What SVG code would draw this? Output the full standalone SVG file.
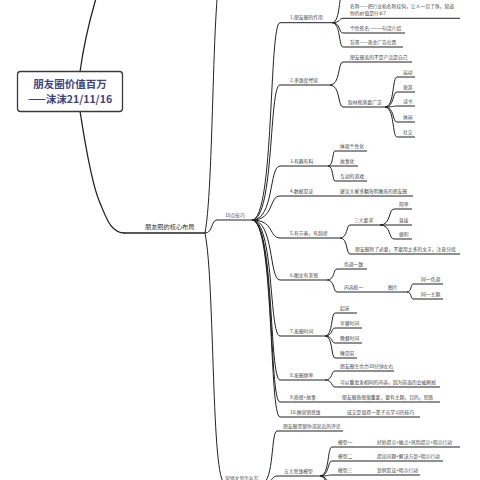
<svg xmlns="http://www.w3.org/2000/svg" width="480" height="480" viewBox="0 0 480 480">
<style>
.ln{fill:none;stroke:#222;stroke-width:1}
.lr{fill:none;stroke:#222;stroke-width:1.3}
.t{font-family:"Noto Sans CJK SC","Noto Sans",sans-serif;font-size:4.8px;fill:#444}
.t2{font-family:"Noto Sans CJK SC","Noto Sans",sans-serif;font-size:6.2px;fill:#333}
.rt{font-family:"Noto Sans CJK SC","Noto Sans",sans-serif;font-size:10.5px;font-weight:bold;fill:#3d4383;text-anchor:middle}
</style>
<rect width="480" height="480" fill="#fff"/>
<g id="connectors">
  <path class="lr" d="M80,72 Q85,35 97,-5"/>
  <path class="lr" d="M80,111 C86,150 92,185 100,203 C106,216.5 110,233 125,233"/>
  <path class="ln" d="M205,233 C215,178 211,-40 225,-40"/>
  <path class="ln" d="M205,233 C213,233 211,220 217,220"/>
  <path class="ln" d="M205,233 C215,283 211,483 225,483"/>
  <path class="ln" d="M252,220 C274.4,220 268.8,22.7 280,22.7"/>
  <path class="ln" d="M252,220 C274.4,220 268.8,85 280,85"/>
  <path class="ln" d="M252,220 C274.4,220 268.8,166 280,166"/>
  <path class="ln" d="M252,220 C274.4,220 268.8,196 280,196"/>
  <path class="ln" d="M252,220 C274.4,220 268.8,238 280,238"/>
  <path class="ln" d="M252,220 C274.4,220 268.8,280 280,280"/>
  <path class="ln" d="M252,220 C274.4,220 268.8,336 280,336"/>
  <path class="ln" d="M252,220 C274.4,220 268.8,380 280,380"/>
  <path class="ln" d="M252,220 C274.4,220 268.8,402 280,402"/>
  <path class="ln" d="M252,220 C274.4,220 268.8,417 280,417"/>
  <path class="ln" d="M332,22.7 C340.8,22.7 338.6,-8 343,-8"/>
  <path class="ln" d="M332,22.7 C340.8,22.7 338.6,18.3 343,18.3"/>
  <path class="ln" d="M332,22.7 C340.8,22.7 338.6,33 343,33"/>
  <path class="ln" d="M332,22.7 C340.8,22.7 338.6,47 343,47"/>
  <path class="ln" d="M330,85 C340.4,85 337.8,62 343,62"/>
  <path class="ln" d="M330,85 C340.4,85 337.8,107 343,107"/>
  <path class="ln" d="M385,107 C394.6,107 392.2,77 397,77"/>
  <path class="ln" d="M385,107 C394.6,107 392.2,92 397,92"/>
  <path class="ln" d="M385,107 C394.6,107 392.2,106 397,106"/>
  <path class="ln" d="M385,107 C394.6,107 392.2,122 397,122"/>
  <path class="ln" d="M385,107 C394.6,107 392.2,137 397,137"/>
  <path class="ln" d="M328,166 C333.6,166 332.2,151 335,151"/>
  <path class="ln" d="M328,166 H335"/>
  <path class="ln" d="M328,166 C333.6,166 332.2,181 335,181"/>
  <path class="ln" d="M340,238 C348,238 346,225 350,225"/>
  <path class="ln" d="M340,238 C348,238 346,254 350,254"/>
  <path class="ln" d="M380,225 C391.2,225 388.4,209 394,209"/>
  <path class="ln" d="M380,225 H394"/>
  <path class="ln" d="M380,225 C391.2,225 388.4,239 394,239"/>
  <path class="ln" d="M327,280 C335,280 333,269 337,269"/>
  <path class="ln" d="M327,280 C335,280 333,292 337,292"/>
  <path class="ln" d="M407,292 C411.8,292 410.6,284 413,284"/>
  <path class="ln" d="M407,292 C411.8,292 410.6,299 413,299"/>
  <path class="ln" d="M325,336 C333,336 331,313 335,313"/>
  <path class="ln" d="M325,336 C333,336 331,328 335,328"/>
  <path class="ln" d="M325,336 C333,336 331,343 335,343"/>
  <path class="ln" d="M325,336 C333,336 331,358 335,358"/>
  <path class="ln" d="M325,380 C333,380 331,371 335,371"/>
  <path class="ln" d="M325,380 C333,380 331,387 335,387"/>
  <path class="ln" d="M262,483 C274,483 271,431 277,431"/>
  <path class="ln" d="M262,483 C274,483 271,476 277,476"/>
  <path class="ln" d="M320,476 C329.6,476 327.2,447 332,447"/>
  <path class="ln" d="M320,476 C329.6,476 327.2,461 332,461"/>
  <path class="ln" d="M320,476 C329.6,476 327.2,475 332,475"/>
  <path class="ln" d="M320,476 C329.6,476 327.2,489 332,489"/>
  <path class="ln" d="M320,476 C329.6,476 327.2,503 332,503"/>
</g>
<g id="root">
  <rect x="17.5" y="71.5" width="105" height="40" rx="3" fill="#fff" stroke="#3a3a3a" stroke-width="1.3"/>
  <text class="rt" x="70" y="88">朋友圈价值百万</text>
  <text class="rt" x="70" y="103">——沫沫21/11/16</text>
</g>
<g id="core">
  <path class="lr" d="M124,233 H205"/>
  <text class="t2" x="145" y="228.5">朋友圈的核心布局</text>
</g>
<g id="tips10">
  <path class="ln" d="M217,220 H252"/>
  <text class="t" x="225" y="216.5">10点技巧</text>
</g>
<g id="copywriting">
  <path class="ln" d="M225,483 H262"/>
  <text class="t" x="225" y="479.5">营销文案怎么写</text>
</g>
<g id="n1">
  <path class="ln" d="M280,22.7 H332"/>
  <text class="t" x="290" y="19.2">1.朋友圈的作用</text>
</g>
<g id="n1a">
  <path class="ln" d="M343,18.3 H460"/>
  <text class="t" x="350" y="8.3">名称——把行业和名称挂钩，让人一目了然，知道</text>
  <text class="t" x="350" y="14.8">你的价值是什么?</text>
</g>
<g id="n1b">
  <path class="ln" d="M343,33 H405"/>
  <text class="t" x="350" y="29.5">个性签名——一句话介绍</text>
</g>
<g id="n1c">
  <path class="ln" d="M343,47 H403"/>
  <text class="t" x="350" y="43.5">背景——黄金广告位置</text>
</g>
<g id="n2">
  <path class="ln" d="M280,85 H330"/>
  <text class="t" x="290" y="81.5">2.多维度经营</text>
</g>
<g id="n2a">
  <path class="ln" d="M343,62 H412"/>
  <text class="t" x="350" y="58.5">朋友圈卖的不是产品是自己</text>
</g>
<g id="n2b">
  <path class="ln" d="M343,107 H385"/>
  <text class="t" x="348" y="103.5">取材视角要广泛</text>
</g>
<g id="n2b1"><path class="ln" d="M397,77 H415"/><text class="t" x="403" y="73.5">运动</text></g>
<g id="n2b2"><path class="ln" d="M397,92 H415"/><text class="t" x="403" y="88.5">旅游</text></g>
<g id="n2b3"><path class="ln" d="M397,106 H415"/><text class="t" x="403" y="102.5">读书</text></g>
<g id="n2b4"><path class="ln" d="M397,122 H415"/><text class="t" x="403" y="118.5">休闲</text></g>
<g id="n2b5"><path class="ln" d="M397,137 H415"/><text class="t" x="403" y="133.5">社交</text></g>
<g id="n3">
  <path class="ln" d="M280,166 H328"/>
  <text class="t" x="290" y="162.5">3.有趣有料</text>
</g>
<g id="n3a"><path class="ln" d="M335,151 H367"/><text class="t" x="340" y="147.5">体现个性化</text></g>
<g id="n3b"><path class="ln" d="M335,166 H358"/><text class="t" x="340" y="162.5">故事化</text></g>
<g id="n3c"><path class="ln" d="M335,181 H367"/><text class="t" x="340" y="177.5">互动的游戏</text></g>
<g id="n4">
  <path class="ln" d="M280,196 H413"/>
  <text class="t" x="290" y="192.5">4.数据见证</text>
  <text class="t" x="340" y="192.5">建议大家多翻海明教练的朋友圈</text>
</g>
<g id="n5">
  <path class="ln" d="M280,238 H340"/>
  <text class="t" x="290" y="234.5">5.有节奏，有韵律</text>
</g>
<g id="n5a"><path class="ln" d="M350,225 H380"/><text class="t" x="354" y="221.5">三大要求</text></g>
<g id="n5a1"><path class="ln" d="M394,209 H412"/><text class="t" x="399" y="205.5">简单</text></g>
<g id="n5a2"><path class="ln" d="M394,225 H412"/><text class="t" x="399" y="221.5">直接</text></g>
<g id="n5a3"><path class="ln" d="M394,239 H412"/><text class="t" x="399" y="235.5">便利</text></g>
<g id="n5b"><path class="ln" d="M350,254 H460"/><text class="t" x="355" y="250.5">朋友圈除了必要，不要用太多的文字，注意分段</text></g>
<g id="n6">
  <path class="ln" d="M280,280 H327"/>
  <text class="t" x="290" y="276.5">6.图文有美感</text>
</g>
<g id="n6a"><path class="ln" d="M337,269 H367"/><text class="t" x="344" y="265.5">色调一致</text></g>
<g id="n6b">
  <path class="ln" d="M337,292 H407"/>
  <text class="t" x="344" y="288.5">内容统一</text>
  <text class="t" x="388" y="288.5">图片</text>
</g>
<g id="n6b1"><path class="ln" d="M413,284 H443"/><text class="t" x="421" y="280.5">同一色调</text></g>
<g id="n6b2"><path class="ln" d="M413,299 H443"/><text class="t" x="421" y="295.5">同一主题</text></g>
<g id="n7">
  <path class="ln" d="M280,336 H325"/>
  <text class="t" x="290" y="332.5">7.发圈时间</text>
</g>
<g id="n7a"><path class="ln" d="M335,313 H357"/><text class="t" x="340" y="309.5">起床</text></g>
<g id="n7b"><path class="ln" d="M335,328 H362"/><text class="t" x="340" y="324.5">早餐时间</text></g>
<g id="n7c"><path class="ln" d="M335,343 H362"/><text class="t" x="340" y="339.5">晚餐时间</text></g>
<g id="n7d"><path class="ln" d="M335,358 H357"/><text class="t" x="340" y="354.5">睡觉前</text></g>
<g id="n8">
  <path class="ln" d="M280,380 H325"/>
  <text class="t" x="290" y="376.5">8.发圈频率</text>
</g>
<g id="n8a"><path class="ln" d="M335,371 H394"/><text class="t" x="340" y="367.5">朋友圈生命力30分钟左右</text></g>
<g id="n8b"><path class="ln" d="M335,387 H440"/><text class="t" x="340" y="383.5">可以重复发相同的内容，因为前面的会被刷掉</text></g>
<g id="n9">
  <path class="ln" d="M280,402 H440"/>
  <text class="t" x="290" y="398.5">9.质感+故事</text>
  <text class="t" x="342" y="398.5">朋友圈质感很重要，要有主题，目的，思路</text>
</g>
<g id="n10">
  <path class="ln" d="M280,417 H420"/>
  <text class="t" x="290" y="413.5">10.做营销思维</text>
  <text class="t" x="347" y="413.5">成交是值得一辈子去学习的技巧</text>
</g>
<g id="m1"><path class="ln" d="M277,431 H343"/><text class="t" x="283" y="427.5">朋友圈需留你或就近的评论</text></g>
<g id="m2"><path class="ln" d="M277,476 H320"/><text class="t" x="284" y="472.5">五大思维模型</text></g>
<g id="m2a">
  <path class="ln" d="M332,447 H460"/>
  <text class="t" x="338" y="443.5">模型一</text>
  <text class="t" x="377" y="443.5">好处提示+痛点+风险提示+暗示行动</text>
</g>
<g id="m2b">
  <path class="ln" d="M332,461 H443"/>
  <text class="t" x="338" y="457.5">模型二</text>
  <text class="t" x="377" y="457.5">提出问题+解决方案+暗示行动</text>
</g>
<g id="m2c">
  <path class="ln" d="M332,475 H420"/>
  <text class="t" x="338" y="471.5">模型三</text>
  <text class="t" x="377" y="471.5">案例见证+暗示行动</text>
</g>
</svg>
